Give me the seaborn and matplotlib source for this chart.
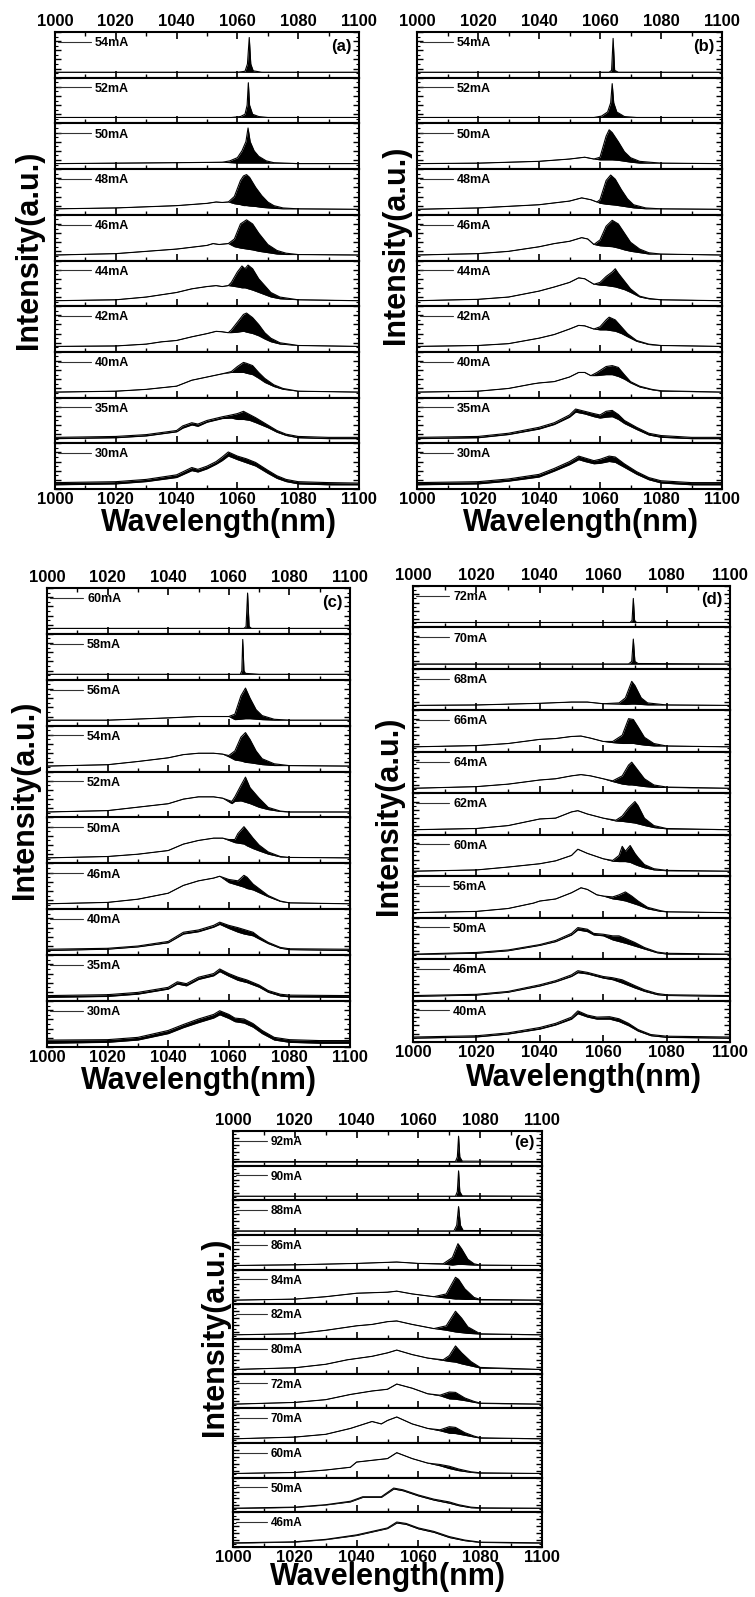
import matplotlib
matplotlib.use("Agg")
import matplotlib.pyplot as plt
import seaborn as sns
from matplotlib.ticker import MultipleLocator
from matplotlib.lines import Line2D

# ---------------- data (wavelength nm, upper envelope, lower envelope), strip-normalised ----------------
a_labels = ["54mA", "52mA", "50mA", "48mA", "46mA", "44mA", "42mA", "40mA", "35mA", "30mA"]
a_spectra = [
    [(1000,.12,.12),(1060,.12,.12),(1062.5,.14,.12),(1063.3,.3,.12),(1063.9,.88,.12),(1064.4,.3,.12),(1065.2,.15,.12),(1068,.12,.12),(1100,.12,.12)],
    [(1000,.13,.13),(1058,.13,.13),(1061,.15,.13),(1062.5,.2,.13),(1063.2,.4,.13),(1063.6,.89,.13),(1064,.4,.13),(1065,.2,.13),(1067,.15,.13),(1070,.13,.13),(1100,.13,.13)],
    [(1000,.12,.12),(1020,.13,.13),(1040,.14,.14),(1055,.15,.15),(1057.5,.18,.14),(1060,.25,.13),(1061.5,.4,.13),(1062.8,.6,.13),(1063.5,.9,.13),(1064.2,.6,.13),(1065.5,.4,.13),(1067,.28,.13),(1069.5,.18,.13),(1072,.14,.13),(1080,.12,.12),(1100,.12,.12)],
    [(1000,.13,.13),(1020,.15,.15),(1040,.2,.2),(1050,.25,.25),(1053,.28,.28),(1055,.27,.27),(1057,.28,.28),(1059,.4,.24),(1061,.75,.22),(1062,.85,.2),(1063,.88,.2),(1064,.82,.19),(1066,.6,.18),(1068,.42,.16),(1070,.28,.15),(1072,.2,.14),(1075,.15,.13),(1080,.13,.13),(1100,.12,.12)],
    [(1000,.12,.12),(1020,.15,.15),(1040,.25,.25),(1050,.33,.33),(1052,.37,.37),(1054,.35,.35),(1057,.37,.37),(1059,.47,.3),(1061,.8,.27),(1063,.89,.25),(1065,.8,.23),(1067,.6,.2),(1070,.35,.17),(1073,.22,.14),(1076,.16,.13),(1080,.13,.13),(1100,.12,.12)],
    [(1000,.12,.12),(1020,.14,.14),(1030,.2,.2),(1040,.3,.3),(1045,.38,.38),(1050,.43,.43),(1053,.45,.45),(1055,.43,.43),(1057,.45,.45),(1058,.52,.44),(1060,.75,.42),(1061.5,.88,.4),(1062.5,.82,.4),(1063.5,.9,.38),(1065,.82,.35),(1067,.6,.3),(1069,.45,.25),(1071,.3,.2),(1074,.2,.16),(1080,.14,.14),(1100,.12,.12)],
    [(1000,.12,.12),(1020,.13,.13),(1030,.17,.17),(1035,.22,.22),(1040,.25,.25),(1045,.33,.33),(1050,.4,.4),(1053,.45,.45),(1055,.44,.44),(1057,.42,.42),(1058,.48,.42),(1060,.65,.43),(1062,.82,.45),(1063,.85,.43),(1065,.75,.4),(1067,.6,.35),(1069,.42,.28),(1071,.3,.22),(1074,.2,.17),(1080,.14,.14),(1100,.12,.12)],
    [(1000,.12,.12),(1020,.14,.14),(1030,.18,.18),(1040,.25,.25),(1045,.38,.38),(1050,.45,.45),(1055,.52,.52),(1058,.57,.55),(1060,.68,.55),(1062,.77,.55),(1063,.75,.53),(1065,.7,.5),(1067,.55,.42),(1069,.42,.33),(1072,.28,.24),(1075,.2,.18),(1080,.14,.14),(1100,.12,.12)],
    [(1000,.13,.1),(1020,.15,.12),(1030,.19,.16),(1040,.28,.25),(1042,.38,.33),(1045,.45,.4),(1047,.42,.37),(1050,.5,.46),(1055,.58,.54),(1058,.62,.55),(1060,.65,.52),(1062,.7,.52),(1064,.63,.5),(1066,.56,.45),(1070,.4,.34),(1073,.28,.24),(1076,.2,.17),(1080,.15,.12),(1090,.13,.1),(1100,.13,.1)],
    [(1000,.14,.09),(1020,.16,.11),(1030,.21,.16),(1040,.31,.25),(1045,.47,.4),(1047,.43,.37),(1050,.5,.44),(1053,.6,.54),(1055,.7,.62),(1057,.81,.72),(1060,.72,.64),(1063,.66,.57),(1066,.58,.5),(1070,.41,.34),(1073,.29,.23),(1076,.21,.16),(1080,.16,.11),(1090,.14,.09),(1100,.13,.09)],
]

b_labels = ["54mA", "52mA", "50mA", "48mA", "46mA", "44mA", "42mA", "40mA", "35mA", "30mA"]
b_spectra = [
    [(1000,.12,.12),(1063,.12,.12),(1063.8,.16,.12),(1064.3,.86,.12),(1064.8,.16,.12),(1066,.12,.12),(1100,.12,.12)],
    [(1000,.13,.13),(1058,.13,.13),(1060.5,.16,.13),(1062.5,.25,.13),(1063.5,.45,.13),(1064,.87,.13),(1064.5,.45,.13),(1065.5,.25,.13),(1068,.15,.13),(1072,.13,.13),(1100,.13,.13)],
    [(1000,.12,.12),(1020,.13,.13),(1040,.17,.17),(1050,.22,.22),(1055,.26,.26),(1058,.22,.22),(1060,.26,.2),(1062,.72,.2),(1063,.86,.2),(1064,.8,.2),(1066,.6,.19),(1068,.38,.17),(1070,.25,.15),(1073,.17,.13),(1080,.13,.13),(1100,.12,.12)],
    [(1000,.12,.12),(1020,.15,.15),(1040,.22,.22),(1050,.3,.3),(1054,.37,.37),(1057,.33,.33),(1059,.28,.28),(1060,.33,.25),(1062,.75,.23),(1063.5,.87,.22),(1065,.78,.21),(1067,.55,.19),(1069,.35,.17),(1071,.22,.15),(1075,.15,.13),(1080,.13,.13),(1100,.12,.12)],
    [(1000,.12,.12),(1020,.15,.15),(1030,.2,.2),(1040,.3,.3),(1045,.37,.37),(1050,.42,.42),(1054,.5,.5),(1056,.47,.47),(1058,.35,.35),(1060,.45,.32),(1062,.75,.31),(1064,.88,.3),(1066,.8,.27),(1068,.6,.23),(1070,.4,.2),(1073,.25,.17),(1076,.17,.14),(1080,.14,.14),(1100,.12,.12)],
    [(1000,.12,.12),(1020,.15,.15),(1030,.2,.2),(1040,.33,.33),(1045,.42,.42),(1050,.52,.52),(1053,.62,.62),(1055,.6,.6),(1058,.48,.48),(1060,.52,.46),(1062,.65,.45),(1064,.75,.43),(1065,.82,.42),(1066,.72,.4),(1068,.55,.36),(1070,.38,.3),(1073,.22,.2),(1076,.17,.16),(1080,.14,.14),(1100,.12,.12)],
    [(1000,.12,.12),(1020,.14,.14),(1030,.18,.18),(1040,.3,.3),(1045,.38,.38),(1050,.5,.5),(1053,.58,.58),(1055,.57,.57),(1058,.5,.5),(1060,.55,.48),(1062,.7,.48),(1063,.76,.47),(1065,.7,.45),(1067,.55,.4),(1069,.4,.33),(1072,.25,.23),(1076,.17,.16),(1080,.14,.14),(1100,.12,.12)],
    [(1000,.12,.12),(1020,.14,.14),(1030,.2,.2),(1038,.3,.3),(1040,.32,.32),(1045,.35,.35),(1050,.45,.45),(1053,.55,.55),(1055,.55,.55),(1057,.48,.48),(1059,.55,.48),(1062,.68,.5),(1064,.7,.5),(1066,.66,.46),(1068,.5,.4),(1070,.35,.32),(1073,.25,.23),(1077,.18,.17),(1080,.15,.14),(1100,.12,.12)],
    [(1000,.13,.1),(1020,.15,.12),(1030,.22,.19),(1040,.35,.31),(1045,.45,.41),(1050,.62,.57),(1052,.75,.68),(1055,.7,.64),(1058,.65,.58),(1060,.62,.55),(1062,.7,.57),(1064,.72,.58),(1066,.63,.52),(1068,.5,.43),(1072,.35,.3),(1076,.22,.18),(1080,.17,.13),(1090,.13,.1),(1100,.13,.1)],
    [(1000,.14,.09),(1020,.16,.11),(1030,.22,.17),(1040,.32,.26),(1045,.45,.39),(1050,.6,.53),(1053,.72,.64),(1055,.68,.6),(1058,.62,.55),(1060,.65,.56),(1063,.72,.6),(1065,.7,.58),(1068,.55,.47),(1072,.38,.32),(1076,.25,.2),(1080,.18,.13),(1090,.14,.09),(1100,.14,.09)],
]

c_labels = ["60mA", "58mA", "56mA", "54mA", "52mA", "50mA", "46mA", "40mA", "35mA", "30mA"]
c_spectra = [
    [(1000,.12,.12),(1065,.12,.12),(1065.7,.16,.12),(1066.2,.89,.12),(1066.7,.16,.12),(1067.5,.12,.12),(1100,.12,.12)],
    [(1000,.12,.12),(1063.8,.12,.12),(1064.3,.2,.12),(1064.6,.88,.12),(1065,.2,.12),(1065.5,.14,.12),(1068,.13,.12),(1070,.12,.12),(1100,.12,.12)],
    [(1000,.12,.12),(1020,.12,.12),(1040,.17,.17),(1050,.2,.2),(1060,.2,.2),(1062,.25,.13),(1064,.65,.14),(1065.5,.82,.15),(1067,.6,.15),(1069,.35,.14),(1071,.22,.13),(1075,.14,.12),(1080,.12,.12),(1100,.12,.12)],
    [(1000,.12,.12),(1020,.15,.15),(1030,.22,.22),(1040,.3,.3),(1045,.37,.37),(1050,.4,.4),(1055,.4,.4),(1058,.38,.38),(1060,.35,.32),(1062,.45,.25),(1064,.75,.23),(1065.5,.85,.2),(1067,.7,.19),(1069,.45,.17),(1071,.28,.15),(1075,.17,.13),(1080,.13,.13),(1100,.12,.12)],
    [(1000,.12,.12),(1020,.15,.15),(1040,.3,.3),(1045,.4,.4),(1050,.45,.45),(1055,.45,.45),(1058,.42,.42),(1061,.35,.3),(1062,.45,.35),(1064,.7,.36),(1065.5,.88,.33),(1067,.65,.3),(1070,.42,.22),(1073,.22,.17),(1077,.14,.13),(1080,.12,.12),(1100,.12,.12)],
    [(1000,.12,.12),(1020,.15,.15),(1030,.2,.2),(1040,.28,.28),(1045,.42,.42),(1050,.5,.5),(1055,.55,.55),(1058,.55,.55),(1060,.52,.5),(1062,.52,.45),(1063,.65,.44),(1065,.8,.42),(1066,.72,.38),(1068,.55,.32),(1070,.4,.27),(1073,.25,.2),(1077,.15,.14),(1080,.13,.13),(1100,.12,.12)],
    [(1000,.12,.12),(1020,.15,.15),(1030,.22,.22),(1040,.35,.35),(1045,.52,.52),(1050,.62,.62),(1055,.68,.68),(1057,.72,.72),(1060,.65,.58),(1063,.62,.52),(1065,.74,.48),(1066,.7,.45),(1068,.55,.42),(1070,.45,.36),(1073,.3,.27),(1077,.18,.17),(1080,.14,.14),(1100,.12,.12)],
    [(1000,.13,.1),(1020,.15,.13),(1030,.2,.18),(1040,.3,.27),(1045,.5,.46),(1050,.55,.51),(1055,.65,.61),(1057,.72,.67),(1060,.65,.58),(1063,.6,.5),(1065,.56,.46),(1068,.5,.42),(1070,.4,.35),(1073,.28,.25),(1077,.17,.15),(1080,.14,.12),(1100,.13,.1)],
    [(1000,.12,.08),(1020,.14,.1),(1030,.19,.15),(1040,.3,.26),(1043,.42,.37),(1046,.38,.33),(1050,.52,.47),(1055,.6,.55),(1057,.7,.64),(1060,.6,.54),(1063,.52,.45),(1066,.46,.4),(1070,.35,.3),(1073,.23,.19),(1077,.15,.11),(1080,.13,.09),(1100,.12,.08)],
    [(1000,.15,.08),(1020,.16,.1),(1030,.21,.15),(1040,.36,.29),(1045,.49,.42),(1050,.61,.53),(1055,.71,.63),(1057,.79,.7),(1060,.71,.62),(1062,.63,.55),(1065,.61,.52),(1068,.51,.43),(1071,.36,.29),(1075,.21,.15),(1080,.16,.1),(1090,.14,.08),(1100,.14,.08)],
]

d_labels = ["72mA", "70mA", "68mA", "66mA", "64mA", "62mA", "60mA", "56mA", "50mA", "46mA", "40mA"]
d_spectra = [
    [(1000,.12,.12),(1068.5,.12,.12),(1069.1,.17,.12),(1069.5,.7,.12),(1069.9,.17,.12),(1070.5,.12,.12),(1100,.12,.12)],
    [(1000,.12,.12),(1068,.12,.12),(1069,.18,.12),(1069.5,.72,.12),(1070,.18,.12),(1071,.13,.12),(1100,.12,.12)],
    [(1000,.12,.12),(1020,.13,.13),(1040,.17,.17),(1050,.2,.2),(1055,.2,.2),(1060,.16,.16),(1065,.18,.15),(1067,.3,.14),(1069,.7,.15),(1070,.6,.15),(1072,.3,.14),(1074,.18,.13),(1080,.13,.13),(1100,.12,.12)],
    [(1000,.12,.12),(1020,.15,.15),(1030,.2,.2),(1040,.3,.3),(1045,.32,.32),(1050,.37,.37),(1053,.38,.38),(1056,.33,.33),(1060,.25,.25),(1063,.25,.22),(1066,.4,.2),(1068,.8,.2),(1069.5,.78,.2),(1071,.6,.18),(1073,.35,.16),(1076,.2,.14),(1080,.14,.14),(1100,.12,.12)],
    [(1000,.12,.12),(1020,.16,.16),(1030,.22,.22),(1040,.32,.32),(1045,.35,.35),(1050,.42,.42),(1053,.45,.45),(1056,.42,.42),(1060,.35,.35),(1063,.3,.28),(1066,.42,.22),(1068,.68,.2),(1069,.75,.2),(1071,.55,.18),(1073,.35,.16),(1076,.2,.14),(1080,.15,.14),(1100,.12,.12)],
    [(1000,.12,.12),(1020,.15,.15),(1030,.22,.22),(1040,.38,.38),(1045,.4,.4),(1050,.55,.55),(1052,.58,.58),(1055,.5,.5),(1060,.4,.4),(1064,.35,.33),(1066,.45,.32),(1068,.65,.3),(1070,.8,.28),(1071,.7,.26),(1073,.4,.22),(1076,.22,.17),(1080,.15,.14),(1100,.12,.12)],
    [(1000,.12,.12),(1020,.15,.15),(1030,.22,.22),(1040,.3,.3),(1045,.37,.37),(1050,.5,.5),(1052,.65,.65),(1055,.55,.55),(1060,.42,.42),(1063,.38,.36),(1065,.5,.35),(1066,.72,.35),(1067,.6,.35),(1068.5,.74,.33),(1070,.55,.28),(1071,.45,.25),(1073,.28,.2),(1076,.18,.15),(1080,.14,.13),(1100,.12,.12)],
    [(1000,.12,.12),(1020,.15,.15),(1030,.22,.22),(1038,.35,.35),(1040,.4,.4),(1045,.45,.45),(1050,.6,.6),(1053,.72,.72),(1055,.68,.68),(1058,.55,.55),(1060,.52,.52),(1063,.5,.45),(1065,.55,.43),(1067,.62,.4),(1069,.52,.35),(1071,.4,.3),(1074,.25,.21),(1078,.17,.15),(1080,.14,.14),(1100,.12,.12)],
    [(1000,.12,.11),(1020,.16,.14),(1030,.22,.2),(1040,.35,.33),(1045,.45,.42),(1050,.62,.58),(1052,.76,.7),(1055,.72,.66),(1057,.62,.58),(1060,.6,.56),(1063,.56,.46),(1065,.56,.42),(1067,.5,.38),(1070,.4,.31),(1073,.28,.24),(1077,.17,.15),(1080,.14,.12),(1100,.12,.11)],
    [(1000,.12,.1),(1020,.15,.13),(1030,.22,.2),(1040,.38,.35),(1045,.48,.45),(1050,.62,.58),(1052,.72,.67),(1055,.68,.64),(1060,.58,.54),(1063,.55,.5),(1066,.5,.42),(1070,.36,.3),(1073,.26,.22),(1077,.17,.14),(1080,.14,.12),(1100,.12,.1)],
    [(1000,.12,.09),(1020,.15,.12),(1030,.22,.19),(1040,.35,.31),(1045,.45,.41),(1050,.6,.55),(1052,.75,.68),(1055,.65,.6),(1058,.6,.55),(1062,.61,.55),(1065,.56,.49),(1068,.45,.39),(1071,.3,.26),(1075,.18,.15),(1080,.14,.11),(1100,.12,.09)],
]

e_labels = ["92mA", "90mA", "88mA", "86mA", "84mA", "82mA", "80mA", "72mA", "70mA", "60mA", "50mA", "46mA"]
e_spectra = [
    [(1000,.12,.12),(1072,.12,.12),(1072.6,.25,.12),(1073,.85,.12),(1073.4,.25,.12),(1074.2,.13,.12),(1100,.12,.12)],
    [(1000,.12,.12),(1072,.12,.12),(1072.6,.25,.12),(1073,.85,.12),(1073.4,.25,.12),(1074.2,.13,.12),(1100,.12,.12)],
    [(1000,.12,.12),(1071.5,.12,.12),(1072.4,.28,.12),(1073,.82,.12),(1073.6,.28,.12),(1074.5,.13,.12),(1100,.12,.12)],
    [(1000,.12,.12),(1020,.14,.14),(1040,.18,.18),(1053,.22,.22),(1060,.18,.18),(1068,.17,.16),(1071,.35,.13),(1072.8,.75,.15),(1074,.6,.15),(1076,.3,.14),(1078,.17,.13),(1080,.13,.13),(1100,.12,.12)],
    [(1000,.12,.12),(1020,.15,.15),(1030,.22,.22),(1040,.32,.32),(1050,.35,.35),(1053,.38,.38),(1058,.3,.3),(1065,.22,.22),(1069,.3,.18),(1072,.78,.15),(1073,.72,.15),(1075,.45,.14),(1078,.2,.14),(1080,.14,.13),(1100,.12,.12)],
    [(1000,.12,.12),(1020,.15,.15),(1030,.25,.25),(1040,.38,.38),(1045,.42,.42),(1050,.5,.5),(1053,.52,.52),(1058,.42,.42),(1065,.3,.3),(1069,.38,.25),(1072,.8,.2),(1074,.6,.18),(1076,.35,.16),(1080,.15,.14),(1100,.12,.12)],
    [(1000,.12,.12),(1020,.17,.17),(1030,.27,.27),(1037,.4,.4),(1045,.5,.5),(1050,.6,.6),(1053,.68,.68),(1058,.55,.55),(1063,.45,.45),(1068,.4,.38),(1070,.52,.35),(1072,.8,.33),(1074,.6,.28),(1077,.35,.22),(1080,.18,.16),(1100,.12,.12)],
    [(1000,.12,.12),(1020,.17,.17),(1030,.25,.25),(1038,.4,.4),(1045,.5,.5),(1050,.55,.55),(1053,.7,.7),(1058,.58,.58),(1063,.42,.42),(1067,.38,.36),(1070,.47,.27),(1072,.46,.26),(1075,.3,.22),(1078,.2,.17),(1080,.15,.14),(1100,.12,.12)],
    [(1000,.12,.12),(1020,.17,.17),(1030,.25,.25),(1038,.42,.42),(1045,.62,.62),(1048,.55,.55),(1050,.65,.65),(1053,.75,.75),(1058,.55,.55),(1063,.42,.42),(1067,.38,.35),(1070,.47,.28),(1072,.45,.27),(1075,.3,.22),(1078,.2,.17),(1080,.15,.14),(1100,.12,.12)],
    [(1000,.12,.12),(1020,.15,.15),(1030,.22,.22),(1038,.3,.3),(1040,.45,.45),(1045,.5,.5),(1050,.55,.55),(1053,.72,.72),(1058,.55,.55),(1063,.42,.42),(1067,.38,.34),(1070,.33,.26),(1073,.25,.2),(1077,.17,.15),(1080,.14,.13),(1100,.12,.12)],
    [(1000,.12,.11),(1020,.15,.14),(1030,.22,.21),(1038,.32,.3),(1042,.45,.43),(1048,.45,.43),(1052,.7,.67),(1055,.65,.62),(1060,.5,.47),(1065,.38,.35),(1070,.3,.26),(1073,.22,.19),(1077,.15,.13),(1080,.13,.12),(1100,.12,.11)],
    [(1000,.12,.11),(1020,.15,.14),(1030,.22,.21),(1040,.35,.33),(1045,.45,.43),(1050,.55,.53),(1053,.72,.69),(1056,.68,.65),(1060,.55,.52),(1065,.45,.42),(1070,.3,.27),(1075,.2,.18),(1080,.14,.13),(1100,.12,.11)],
]

x_ticks_major = [1000, 1020, 1040, 1060, 1080, 1100]

# ---------------- layout (pixels) ----------------
W, H = 755, 1597
sns.set_theme(style="ticks")
plt.rcParams["font.family"] = ["Liberation Sans", "DejaVu Sans"]
plt.rcParams["font.weight"] = "bold"
plt.rcParams["text.color"] = "black"
plt.rcParams["xtick.color"] = "black"
plt.rcParams["ytick.color"] = "black"
plt.rcParams["xtick.labelcolor"] = "black"
plt.rcParams["axes.edgecolor"] = "black"

fig = plt.figure(figsize=(W / 100, H / 100), dpi=100)

panels = [
    # letter, labels, spectra, box (x0, y0, x1, y1), ylabel (x, y), xlabel (x, baseline y), label fontsize
    ("a", a_labels, a_spectra, (55, 32, 359, 489), (29, 250), (219, 531), 9),
    ("b", b_labels, b_spectra, (417, 32, 722, 489), (396, 245), (581, 531), 9),
    ("c", c_labels, c_spectra, (47, 588, 350, 1047), (25, 800), (199, 1089), 9),
    ("d", d_labels, d_spectra, (413, 586, 730, 1042), (389, 816), (584, 1086), 9),
    ("e", e_labels, e_spectra, (233, 1131, 542, 1547), (215, 1337), (388, 1585), 8.5),
]

for letter, labels, spectra, (x0, y0, x1, y1), (ylx, yly), (xlx, xly), lfs in panels:
    n = len(labels)
    h = (y1 - y0) / n
    for i, (lab, spec) in enumerate(zip(labels, spectra)):
        top = y0 + i * h
        ax = fig.add_axes([x0 / W, 1 - (top + h) / H, (x1 - x0) / W, h / H])
        wl = [p[0] for p in spec]
        up = [p[1] for p in spec]
        lo = [p[2] for p in spec]
        ax.fill_between(wl, lo, up, color="black", lw=0)
        sns.lineplot(x=wl, y=up, ax=ax, color="black", linewidth=0.8,
                     estimator=None, sort=False)
        sns.lineplot(x=wl, y=lo, ax=ax, color="black", linewidth=0.5,
                     estimator=None, sort=False)
        ax.set_xlim(1000, 1100)
        ax.set_ylim(0, 1)
        ax.set_xticks(x_ticks_major)
        ax.xaxis.set_minor_locator(MultipleLocator(10))
        ax.yaxis.set_major_locator(MultipleLocator(0.2))
        ax.yaxis.set_minor_locator(MultipleLocator(0.1))
        first, last = i == 0, i == n - 1
        ax.tick_params(axis="x", which="both", direction="in", bottom=True, top=first,
                       labelbottom=last, labeltop=first, labelsize=12, pad=2,
                       labelcolor="black", color="black")
        ax.tick_params(axis="x", which="major", length=5, width=1.2)
        ax.tick_params(axis="x", which="minor", length=3, width=1.0)
        ax.tick_params(axis="y", which="both", direction="in", left=True, right=True,
                       labelleft=False, labelright=False, color="black")
        ax.tick_params(axis="y", which="major", length=4, width=1.0)
        ax.tick_params(axis="y", which="minor", length=2, width=0.8)
        for t in ax.get_xticklabels():
            t.set_fontweight("bold")
        for s in ax.spines.values():
            s.set_linewidth(1.5)
            s.set_color("black")
        ax.set_xlabel("")
        ax.set_ylabel("")
        ax.set_facecolor("white")
        handle = Line2D([], [], color="#333333", lw=0.8)
        leg = ax.legend([handle], [lab], loc="upper left",
                        bbox_to_anchor=(0.0, 1.0 - 2.0 / h),
                        frameon=False, handlelength=2.6, handletextpad=0.35,
                        borderaxespad=0.0, borderpad=0.25,
                        prop={"weight": "bold", "size": lfs})
        for t in leg.get_texts():
            t.set_color("black")
        if first:
            ax.text(0.975, 0.68, f"({letter})", transform=ax.transAxes, ha="right",
                    va="center", fontsize=12, fontweight="bold", color="black")
    fig.text(ylx / W, 1 - yly / H, "Intensity(a.u.)", rotation=90, ha="center",
             va="center", fontsize=22, fontweight="bold", color="black")
    fig.text(xlx / W, 1 - xly / H, "Wavelength(nm)", ha="center", va="baseline",
             fontsize=22, fontweight="bold", color="black")

fig.savefig("out.png", dpi=100, facecolor="white")
